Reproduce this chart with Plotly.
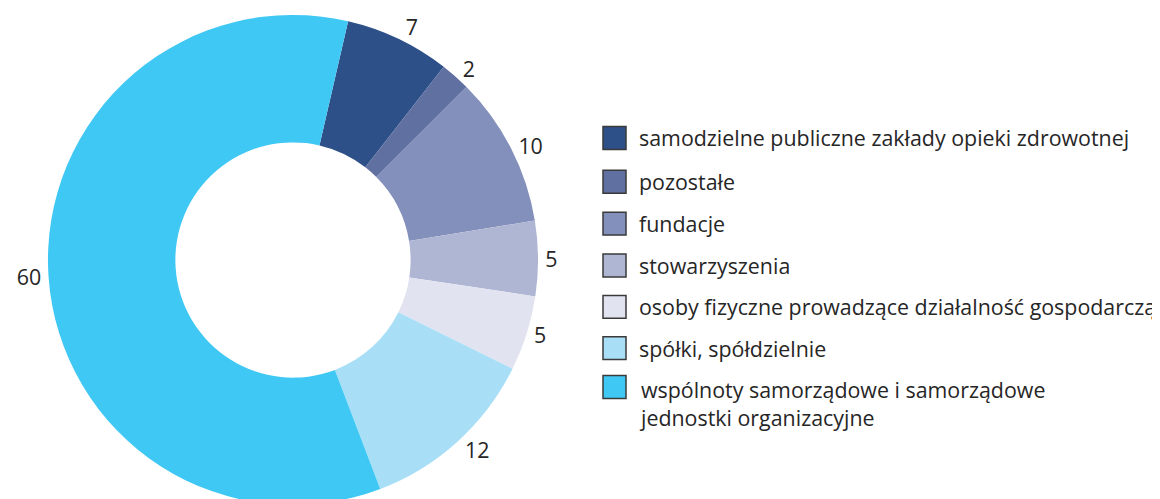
import plotly.graph_objects as go

categories = [
    "samodzielne publiczne zakłady opieki zdrowotnej",
    "pozostałe",
    "fundacje",
    "stowarzyszenia",
    "osoby fizyczne prowadzące działalność gospodarczą",
    "spółki, spółdzielnie",
    "wspólnoty samorządowe i samorządowe<br>jednostki organizacyjne",
]
values = [7, 2, 10, 5, 5, 12, 60]
colors = ["#2e5089", "#6070a1", "#8390bb", "#aeb6d4", "#e2e3f0", "#a8dff7", "#40c8f4"]

# page body has an 8px margin: work in reference pixels and shift by OFF
OFF = 8
W, H = 1170, 510
FONT = "Open Sans"
TEXT_COLOR = "#262626"
FS = 21.4


def px_x(x):
    return (x - OFF) / W


def px_y(y):
    return 1 - (y - OFF) / H


fig = go.Figure(
    go.Pie(
        labels=categories,
        values=values,
        marker=dict(colors=colors, line=dict(width=0)),
        hole=0.48,
        sort=False,
        direction="clockwise",
        rotation=13,
        textinfo="value",
        textposition="outside",
        outsidetextfont=dict(family=FONT, size=FS, color=TEXT_COLOR),
        domain=dict(x=[px_x(47), px_x(539)], y=[px_y(505), px_y(13)]),
        showlegend=False,
        hoverinfo="label+value",
    )
)

# custom legend (larger squares than Plotly's built-in legend allows)
legend_centers = [136.5, 180.5, 222.5, 264.5, 306, 347.5, 386.5]
sq = 23
shapes = []
annotations = []
for i, (cat, col) in enumerate(zip(categories, colors)):
    cy = legend_centers[i]
    shapes.append(dict(
        type="rect", xref="paper", yref="paper",
        x0=px_x(603), x1=px_x(603 + sq),
        y0=px_y(cy + sq / 2), y1=px_y(cy - sq / 2),
        fillcolor=col, line=dict(color="#3a3a3a", width=1.5),
    ))
    if "<br>" in cat:
        annotations.append(dict(
            xref="paper", yref="paper", x=px_x(637), y=px_y(cy - 14),
            xanchor="left", yanchor="top", text=cat, showarrow=False, align="left",
            font=dict(family=FONT, size=FS, color=TEXT_COLOR),
        ))
    else:
        annotations.append(dict(
            xref="paper", yref="paper", x=px_x(637), y=px_y(cy),
            xanchor="left", yanchor="middle", text=cat, showarrow=False, align="left",
            font=dict(family=FONT, size=FS, color=TEXT_COLOR),
        ))

fig.update_layout(
    width=W, height=H,
    margin=dict(l=0, r=0, t=0, b=0),
    paper_bgcolor="white",
    plot_bgcolor="white",
    shapes=shapes,
    annotations=annotations,
    font=dict(family=FONT, color=TEXT_COLOR),
)

fig.write_html("out.html")
